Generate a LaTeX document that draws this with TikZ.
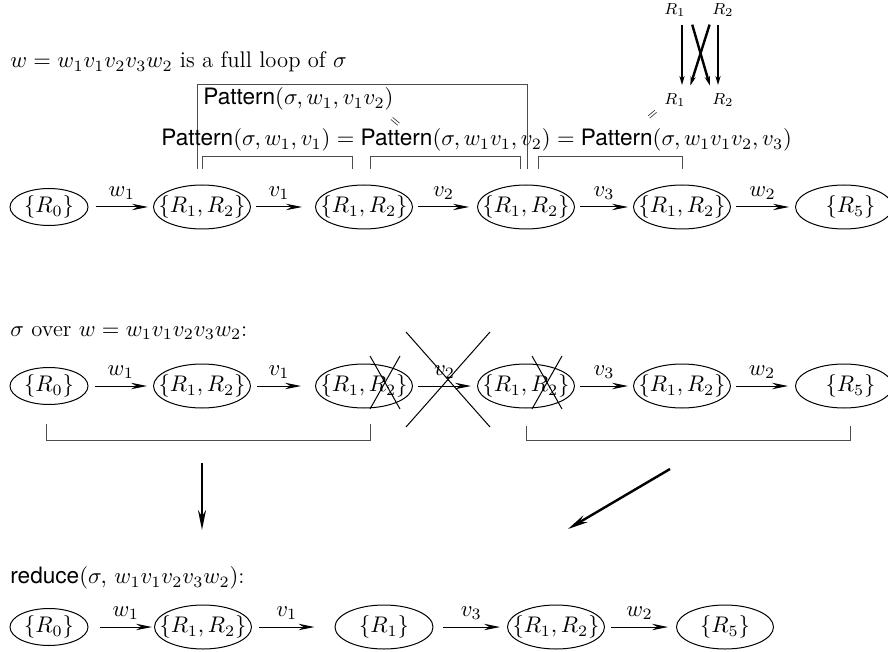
\RequirePackage{fix-cm}
\documentclass[tikz,border=0pt]{standalone}
\usepackage{fontspec}
\setsansfont{TeX Gyre Heros}
\usetikzlibrary{shapes.geometric,arrows.meta}
\begin{document}
\begin{tikzpicture}[x=0.5pt,y=-0.5pt,
  every node/.style={font=\fontsize{11.3}{13.5}\selectfont},
  ell/.style={ellipse, draw, line width=0.5pt, inner sep=0pt, minimum width=48.5pt, minimum height=22pt},
  ells/.style={ell, minimum width=39pt, minimum height=18.5pt},
  arr/.style={-{Stealth[length=8pt,width=3.2pt]}, line width=0.5pt},
  lab/.style={above, inner sep=3.5pt},
  bigarr/.style={-{Stealth[length=10pt,width=4pt]}, line width=1.2pt},
  rarr/.style={-{Stealth[length=4.5pt,width=2.6pt]}, line width=1.2pt, shorten <=4pt, shorten >=4pt},
  brk/.style={draw=black!70, line width=0.5pt},
  txt/.style={anchor=west, inner sep=0pt},
  rl/.style={inner sep=0pt, font=\fontsize{8}{9}\selectfont},
  eqs/.style={inner sep=0pt, font=\fontsize{6}{7}\selectfont}]
\useasboundingbox (0,0) rectangle (888,652);

% ---------- top text ----------
\node[txt] (t1) at (10,62) {$w = w_1v_1v_2v_3w_2$ is a full loop of $\sigma$};

% R diagram
\node[rl] (r1t) at (675,10) {$R_1$};
\node[rl] (r2t) at (723,10) {$R_2$};
\node[rl] (r1b) at (675,100) {$R_1$};
\node[rl] (r2b) at (723,100) {$R_2$};
\draw[rarr] ([xshift=3.5pt]r1t.south) -- ([xshift=3.5pt]r1b.north);
\draw[rarr] ([xshift=-2.5pt]r2t.south) -- ([xshift=-2.5pt]r2b.north);
\draw[rarr] ([xshift=7.5pt]r1t.south) -- ([xshift=-5.5pt]r2b.north);
\draw[rarr] ([xshift=-5.5pt]r2t.south) -- ([xshift=6.5pt]r1b.north);

% pattern box
\draw[brk] (197,169) -- (197,85) -- (527,85) -- (527,169);
\node[txt] (p1) at (203,99) {\textsf{Pattern}$(\sigma, w_1, v_1v_2)$};
\node[eqs, rotate=-40] (eq1) at (395,122) {$=$};
\node[eqs, rotate=40] (eq2) at (653,115) {$=$};
\node[txt] (p2) at (161,140) {\textsf{Pattern}$(\sigma, w_1, v_1) = {}$\textsf{Pattern}$(\sigma, w_1v_1, v_2) = {}$\textsf{Pattern}$(\sigma, w_1v_1v_2, v_3)$};
\draw[brk] (202,169) -- (202,157) -- (352,157) -- (352,169);
\draw[brk] (370,169) -- (370,157) -- (520,157) -- (520,169);
\draw[brk] (538,169) -- (538,157) -- (682,157) -- (682,169);

% ---------- row 1 ----------
\node[ells] (a1) at (49,207) {\makebox[0pt]{$\{R_0\}$}};
\node[ell] (a2) at (202,207) {\makebox[0pt]{$\{R_1,R_2\}$}};
\node[ell] (a3) at (364,207) {\makebox[0pt]{$\{R_1,R_2\}$}};
\node[ell] (a4) at (526,207) {\makebox[0pt]{$\{R_1,R_2\}$}};
\node[ell] (a5) at (682,207) {\makebox[0pt]{$\{R_1,R_2\}$}};
\node[ell] (a6) at (844,207) {\makebox[0pt]{\hspace{6.5pt}$\{R_5\}$}};
\draw[arr] ([xshift=3.5pt]a1.east) -- node[lab]{$w_1$} ([xshift=-2.5pt]a2.west);
\draw[arr] ([xshift=2.5pt]a2.east) -- node[lab]{$v_1$} ([xshift=-6.5pt]a3.west);
\draw[arr] ([xshift=2.5pt]a3.east) -- node[lab]{$v_2$} ([xshift=-4pt]a4.west);
\draw[arr] ([xshift=2.5pt]a4.east) -- node[lab]{$v_3$} ([xshift=-2.5pt]a5.west);
\draw[arr] ([xshift=2.5pt]a5.east) -- node[lab]{$w_2$} ([xshift=-3pt]a6.west);

% ---------- row 2 ----------
\node[txt] (t2) at (10,333) {$\sigma$ over $w = w_1v_1v_2v_3w_2$:};
\node[ells] (b1) at (49,386) {\makebox[0pt]{$\{R_0\}$}};
\node[ell] (b2) at (202,386) {\makebox[0pt]{$\{R_1,R_2\}$}};
\node[ell] (b3) at (364,386) {\makebox[0pt]{$\{R_1,R_2\}$}};
\node[ell] (b4) at (526,386) {\makebox[0pt]{$\{R_1,R_2\}$}};
\node[ell] (b5) at (682,386) {\makebox[0pt]{$\{R_1,R_2\}$}};
\node[ell] (b6) at (844,386) {\makebox[0pt]{\hspace{6.5pt}$\{R_5\}$}};
\draw[arr] ([xshift=3pt]b1.east) -- node[lab]{$w_1$} ([xshift=-3pt]b2.west);
\draw[arr] ([xshift=3pt]b2.east) -- node[lab]{$v_1$} ([xshift=-7pt]b3.west);
\draw[arr] ([xshift=2.5pt]b3.east) -- node[lab]{$v_2$} ([xshift=-3pt]b4.west);
\draw[arr] ([xshift=2.5pt]b4.east) -- node[lab]{$v_3$} ([xshift=-2.5pt]b5.west);
\draw[arr] ([xshift=2.5pt]b5.east) -- node[lab]{$w_2$} ([xshift=-3.5pt]b6.west);
% crosses
\draw[line width=0.5pt] ([shift={(6,-30)}]b3.center) -- ([shift={(36,23)}]b3.center);
\draw[line width=0.5pt] ([shift={(36,-30)}]b3.center) -- ([shift={(6,23)}]b3.center);
\draw[line width=0.5pt] ([shift={(6,-30)}]b4.center) -- ([shift={(36,23)}]b4.center);
\draw[line width=0.5pt] ([shift={(36,-30)}]b4.center) -- ([shift={(6,23)}]b4.center);
\draw[line width=0.5pt] (406,332) -- (490,427);
\draw[line width=0.5pt] (490,332) -- (406,427);
% brackets
\draw[brk] (46,424) -- (46,440) -- (370,440) -- (370,424);
\draw[brk] (526,426) -- (526,440) -- (850,440) -- (850,426);

% arrows between rows
\coordinate (d1s) at (202,463);
\coordinate (d1e) at (202,530);
\coordinate (d2s) at (670,469);
\coordinate (d2e) at (568,529);
\draw[bigarr] (d1s) -- (d1e);
\draw[bigarr] (d2s) -- (d2e);

% ---------- row 3 ----------
\node[txt] (t3) at (10,578) {\textsf{reduce}$(\sigma,\, w_1v_1v_2v_3w_2)$:};
\node[ells] (c1) at (49,627) {\makebox[0pt]{$\{R_0\}$}};
\node[ell] (c2) at (203,627) {\makebox[0pt]{$\{R_1,R_2\}$}};
\node[ell, minimum width=49pt] (c3) at (384,627) {\makebox[0pt]{$\{R_1\}$}};
\node[ell] (c4) at (556,627) {\makebox[0pt]{$\{R_1,R_2\}$}};
\node[ell] (c5) at (725,627) {\makebox[0pt]{$\{R_5\}$}};
\draw[arr] ([xshift=5.5pt]c1.east) -- node[lab]{$w_1$} ([xshift=-1pt]c2.west);
\draw[arr] ([xshift=3.5pt]c2.east) -- node[lab]{$v_1$} ([xshift=-10pt]c3.west);
\draw[arr] ([xshift=4.5pt]c3.east) -- node[lab]{$v_3$} ([xshift=-3.5pt]c4.west);
\draw[arr] ([xshift=3pt]c4.east) -- node[lab]{$w_2$} ([xshift=-4pt]c5.west);
\end{tikzpicture}
\end{document}
